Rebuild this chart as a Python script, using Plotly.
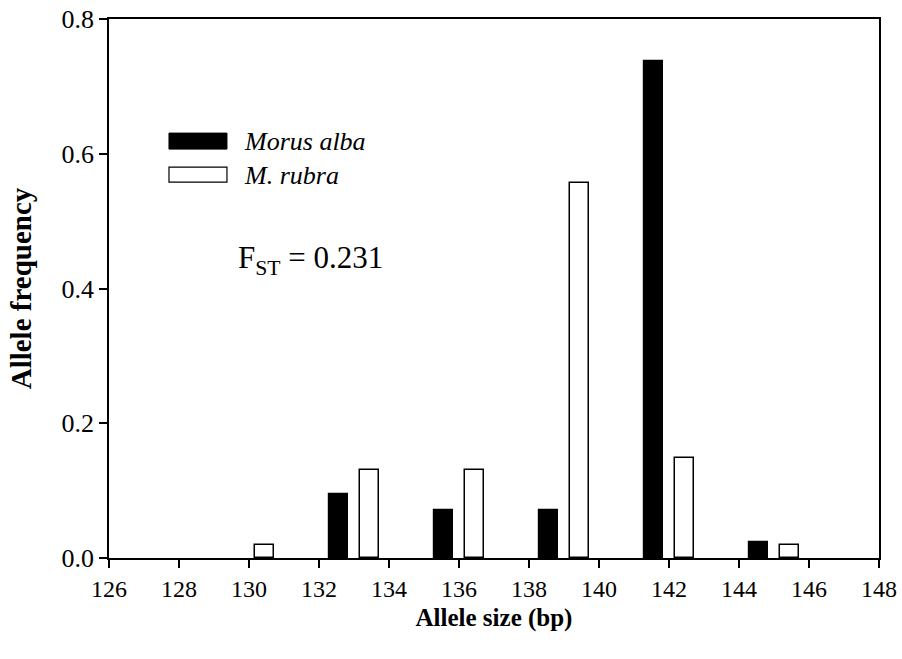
import plotly.graph_objects as go

allele_sizes = [130, 133, 136, 139, 142, 145]
morus_alba = [None, 0.095, 0.071, 0.071, 0.738, 0.024]
m_rubra = [0.019, 0.130, 0.130, 0.556, 0.148, 0.019]
x_ticks = list(range(126, 149, 2))
y_ticks = [0.0, 0.2, 0.4, 0.6, 0.8]

FONT = "Liberation Serif, Times New Roman, Times, serif"

fig = go.Figure()
fig.add_trace(go.Bar(
    x=allele_sizes, y=morus_alba, name="Morus alba",
    width=0.55, offset=-0.725,
    marker=dict(color="black", line=dict(color="black", width=1.2)),
    showlegend=False,
))
fig.add_trace(go.Bar(
    x=allele_sizes, y=m_rubra, name="M. rubra",
    width=0.55, offset=0.175,
    marker=dict(color="white", line=dict(color="black", width=1.5)),
    showlegend=False,
))

# manual legend
fig.add_shape(type="rect", xref="paper", yref="paper",
              x0=0.0779, x1=0.1532, y0=0.7586, y1=0.7883,
              fillcolor="black", line=dict(color="black", width=1))
fig.add_shape(type="rect", xref="paper", yref="paper",
              x0=0.0779, x1=0.1532, y0=0.6973, y1=0.7252,
              fillcolor="white", line=dict(color="black", width=1.2))
fig.add_annotation(xref="paper", yref="paper", x=0.1727, y=0.7734,
                   text="<i>Morus alba</i>", showarrow=False,
                   xanchor="left", yanchor="middle",
                   font=dict(family=FONT, size=26, color="black"))
fig.add_annotation(xref="paper", yref="paper", x=0.1727, y=0.7103,
                   text="<i>M. rubra</i>", showarrow=False,
                   xanchor="left", yanchor="middle",
                   font=dict(family=FONT, size=26, color="black"))
fig.add_annotation(xref="paper", yref="paper", x=0.165, y=0.5525,
                   text="F<sub>ST</sub> = 0.231", showarrow=False,
                   xanchor="left", yanchor="middle",
                   font=dict(family=FONT, size=31, color="black"))

fig.update_layout(
    width=902, height=659,
    margin=dict(l=109, r=23, t=19, b=101, autoexpand=False),
    plot_bgcolor="white", paper_bgcolor="white",
    barmode="overlay", bargap=0,
    font=dict(family=FONT, size=22, color="black"),
)
fig.update_xaxes(
    range=[126, 148], tickvals=x_ticks, ticktext=[str(v) for v in x_ticks],
    showline=True, linecolor="black", linewidth=1.5, mirror=True,
    ticks="outside", ticklen=8, tickwidth=1.5, tickcolor="black",
    showgrid=False, zeroline=False, automargin=False,
    tickfont=dict(family=FONT, size=24),
    title=dict(text="<b>Allele size (bp)</b>", font=dict(family=FONT, size=25), standoff=8),
)
fig.update_yaxes(
    range=[0, 0.8], tickvals=y_ticks, ticktext=[f"{v:.1f}" for v in y_ticks],
    showline=True, linecolor="black", linewidth=1.5, mirror=True,
    ticks="outside", ticklen=8, tickwidth=1.5, tickcolor="black",
    showgrid=False, zeroline=False, automargin=False,
    tickfont=dict(family=FONT, size=26),
    title=dict(text="<b>Allele frequency</b>", font=dict(family=FONT, size=29), standoff=21),
)

fig.write_html(
    "out.html",
    config={"displayModeBar": False},
    post_script="document.body.style.margin='0';document.body.style.overflow='hidden';",
)
